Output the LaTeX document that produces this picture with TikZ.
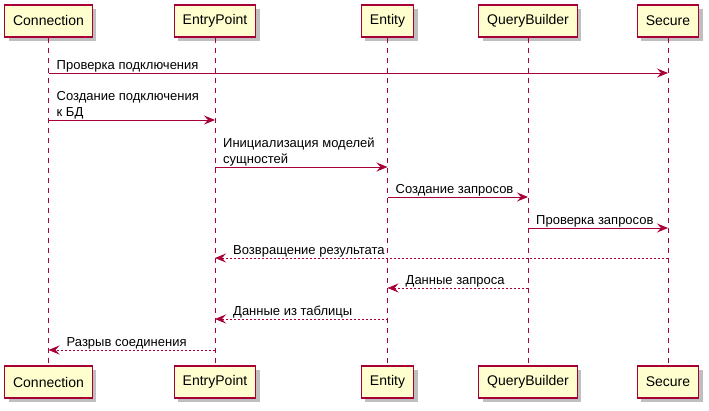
\documentclass[tikz,border=0pt]{standalone}
\usepackage{fontspec}
\setmainfont{Liberation Sans}
\usepackage{xcolor}
\usetikzlibrary{arrows.meta,shadows}
\definecolor{umlred}{HTML}{A80036}
\definecolor{umlfill}{HTML}{FEFECE}
\begin{document}
\begin{tikzpicture}[x=1pt,y=-1pt,
		part/.style={draw=umlred,line width=1.1pt,fill=umlfill,minimum height=32pt,inner xsep=8.5pt,font=\fontsize{14}{16}\selectfont,drop shadow={shadow xshift=4pt,shadow yshift=-4pt,fill=black,opacity=.25}},
		life/.style={umlred,line width=.9pt,dash pattern=on 5pt off 5pt},
		msg/.style={umlred,line width=.9pt,-{Stealth[length=11pt,width=9pt,inset=4pt]}},
		ret/.style={msg,dash pattern=on 2pt off 2pt},
		lbl/.style={anchor=south west,inner sep=0pt,yshift=-1.5pt,align=left,font=\fontsize{13}{16}\selectfont,execute at end node=\strut}]
				\useasboundingbox (0,0) rectangle (709,411);
				\node[part] (conT) at (48.5,21) {Connection};
				\node[part] (entT) at (215,21) {EntryPoint};
				\node[part] (ettT) at (387.5,21) {Entity};
				\node[part] (qbT) at (528,21) {QueryBuilder};
				\node[part] (secT) at (668,21) {Secure};
				\node[part] (conB) at (48.5,382) {Connection};
				\node[part] (entB) at (215,382) {EntryPoint};
				\node[part] (ettB) at (387.5,382) {Entity};
				\node[part] (qbB) at (528,382) {QueryBuilder};
				\node[part] (secB) at (668,382) {Secure};
				\foreach \p in {con,ent,ett,qb,sec}
					\draw[life] (\p T) -- (\p B);
				\coordinate (m1) at (0,73);
				\coordinate (m2) at (0,120);
				\coordinate (m3) at (0,167);
				\coordinate (m4) at (0,197);
				\coordinate (m5) at (0,228);
				\coordinate (m6) at (0,258);
				\coordinate (m7) at (0,288);
				\coordinate (m8) at (0,319);
				\coordinate (m9) at (0,350);
				\draw[msg] (conT |- m1) -- (secT |- m1);
				\draw[msg] (conT |- m2) -- (entT |- m2);
				\draw[msg] (entT |- m3) -- (ettT |- m3);
				\draw[msg] (ettT |- m4) -- (qbT |- m4);
				\draw[msg] (qbT |- m5) -- (secT |- m5);
				\draw[ret] (secT |- m6) -- (entT |- m6);
				\draw[ret] (qbT |- m7) -- (ettT |- m7);
				\draw[ret] (ettT |- m8) -- (entT |- m8);
				\draw[ret] (entT |- m9) -- (conT |- m9);
				\path ([xshift=8pt]conT |- m1) node[lbl] {Проверка подключения}
				([xshift=8pt]conT |- m2) node[lbl] {Создание подключения\\к БД}
				([xshift=8pt]entT |- m3) node[lbl] {Инициализация моделей\\сущностей}
				([xshift=8pt]ettT |- m4) node[lbl] {Создание запросов}
				([xshift=8pt]qbT |- m5) node[lbl] {Проверка запросов}
				([xshift=18pt]entT |- m6) node[lbl] {Возвращение результата}
				([xshift=18pt]ettT |- m7) node[lbl] {Данные запроса}
				([xshift=18pt]entT |- m8) node[lbl] {Данные из таблицы}
				([xshift=18pt]conT |- m9) node[lbl] {Разрыв соединения};
			\end{tikzpicture}
\end{document}
